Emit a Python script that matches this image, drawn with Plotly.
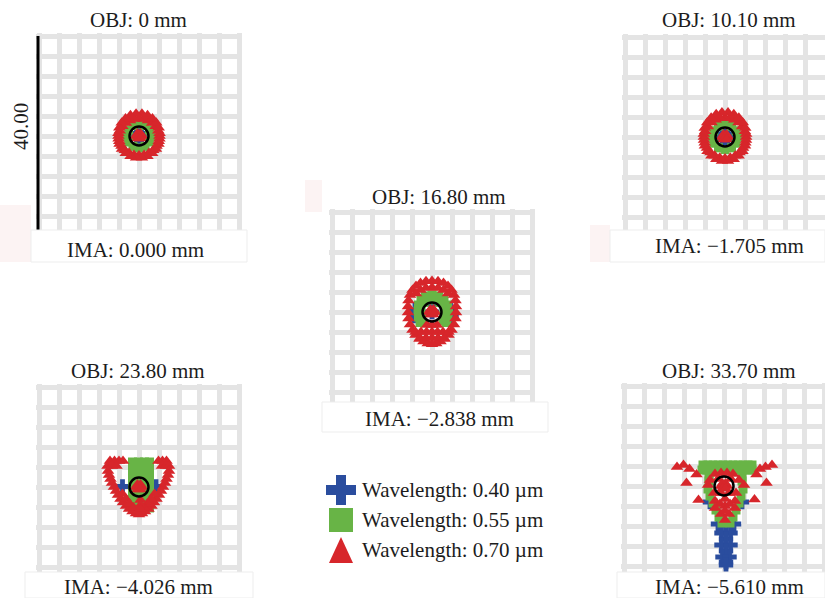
import plotly.graph_objects as go

# ------------------------------------------------------------------
# Spot diagram: ray intercepts in µm, relative to the chief ray
# ------------------------------------------------------------------
FIELD_LABELS = ["OBJ: 0 mm", "OBJ: 10.10 mm", "OBJ: 16.80 mm", "OBJ: 23.80 mm", "OBJ: 33.70 mm"]
IMAGE_LABELS = ["IMA: 0.000 mm", "IMA: \u22121.705 mm", "IMA: \u22122.838 mm",
                "IMA: \u22124.026 mm", "IMA: \u22125.610 mm"]
WAVELENGTHS_UM = [0.40, 0.55, 0.70]
SCALE_BAR_UM = 40.00
AIRY_RADIUS_UM = 1.9
GRID_STEP_UM = 4.0

# field 1 : OBJ 0 mm
F0_BLUE_X = [0.0, 0.5, -0.5, 0.0, 0.0]
F0_BLUE_Y = [0.0, 0.0, 0.0, 0.5, -0.5]
F0_GREEN_X = [2.4, 2.08, 1.2, 0.0, -1.2, -2.08, -2.4, -2.08, -1.2, 0.0, 1.2, 2.08]
F0_GREEN_Y = [0.0, 1.2, 2.08, 2.4, 2.08, 1.2, 0.0, -1.2, -2.08, -2.4, -2.08, -1.2]
F0_RED_X = [4.1, 3.86, 3.33, 2.62, 1.8, 0.91, 0.0, -0.91, -1.8, -2.62, -3.33, -3.86, -4.1,
            3.94, 3.5, 2.83, 1.98, 1.02, 0.0, -1.02, -1.98, -2.83, -3.5, -3.94,
            4.11, 3.93, 3.45, 2.69, 1.71, 0.59, -0.59, -1.71, -2.69, -3.45, -3.93, -4.11,
            4.08, 3.88, 3.39, 2.64, 1.68, 0.58, -0.58, -1.68, -2.64, -3.39, -3.88, -4.08,
            0.0, 0.6, 0.3, -0.3, -0.6, -0.3, 0.3]
F0_RED_Y = [0.0, 1.04, 1.93, 2.62, 3.12, 3.4, 3.5, 3.4, 3.12, 2.62, 1.93, 1.04, 0.0,
            -1.06, -2.02, -2.83, -3.42, -3.79, -3.9, -3.79, -3.42, -2.83, -2.02, -1.06,
            0.54, 1.63, 2.65, 3.51, 4.13, 4.46, 4.46, 4.13, 3.51, 2.65, 1.63, 0.54,
            -0.54, -1.61, -2.6, -3.43, -4.05, -4.36, -4.36, -4.05, -3.43, -2.6, -1.61, -0.54,
            0.0, 0.0, 0.52, 0.52, 0.0, -0.52, -0.52]

# field 2 : OBJ 10.10 mm
F1_BLUE_X = [0.0, 0.6, -0.6, 0.0, 0.0]
F1_BLUE_Y = [0.0, 0.0, 0.0, 0.6, -0.4]
F1_GREEN_X = [2.6, 2.25, 1.3, 0.0, -1.3, -2.25, -2.6, -2.25, -1.3, 0.0, 1.3, 2.25]
F1_GREEN_Y = [0.0, 1.25, 2.17, 2.5, 2.17, 1.25, 0.0, -1.25, -2.17, -2.5, -2.17, -1.25]
F1_RED_X = [4.22, 3.98, 3.43, 2.7, 1.85, 0.94, 0.0, -0.94, -1.85, -2.7, -3.43, -3.98, -4.22,
            4.06, 3.61, 2.91, 2.04, 1.05, 0.0, -1.05, -2.04, -2.91, -3.61, -4.06,
            4.23, 4.05, 3.55, 2.77, 1.76, 0.61, -0.61, -1.76, -2.77, -3.55, -4.05, -4.23,
            4.2, 4.0, 3.49, 2.72, 1.73, 0.6, -0.6, -1.73, -2.72, -3.49, -4.0, -4.2,
            0.0, 0.6, 0.3, -0.3, -0.6, -0.3, 0.3]
F1_RED_Y = [0.0, 1.14, 2.12, 2.88, 3.43, 3.74, 3.85, 3.74, 3.43, 2.88, 2.12, 1.14, 0.0,
            -1.17, -2.22, -3.11, -3.76, -4.17, -4.29, -4.17, -3.76, -3.11, -2.22, -1.17,
            0.59, 1.79, 2.92, 3.86, 4.54, 4.91, 4.91, 4.54, 3.86, 2.92, 1.79, 0.59,
            -0.59, -1.77, -2.86, -3.77, -4.46, -4.8, -4.8, -4.46, -3.77, -2.86, -1.77, -0.59,
            0.0, 0.0, 0.52, 0.52, 0.0, -0.52, -0.52]

# field 3 : OBJ 16.80 mm
F2_BLUE_X = [-3.6, 3.9, -3.4, 3.7, 0.0, 0.0]
F2_BLUE_Y = [-0.8, -0.8, 0.4, 0.4, 0.0, 1.6]
F2_GREEN_X = [0.0, 1.3, -1.3, 2.4, -2.2, 3.1, -2.7, 3.3, -2.8, 3.2, -2.7, 2.9, -2.4,
              0.0, 1.6, -1.6, 2.4, -2.2, 2.3, -2.1, 2.2, -2.0]
F2_GREEN_Y = [3.4, 3.2, 3.2, 2.5, 2.5, 1.4, 1.4, 0.2, 0.2, -1.0, -1.0, -2.1, -2.1,
              2.4, 1.9, 1.9, 0.6, 0.6, -0.8, -0.8, -1.8, -1.8]
F2_RED_X = [0.0, 1.2, 2.3, 3.2, 3.9, 4.4, 4.7, 4.8, 4.8, 4.7, 4.4, 3.9, 3.3, 2.5, 1.7, 0.85, 0.0,
            -1.2, -2.3, -3.2, -3.9, -4.4, -4.7, -4.8, -4.8, -4.7, -4.4, -3.9, -3.3, -2.5, -1.7, -0.85,
            0.0, 1.2, 2.3, 3.2, -1.2, -2.3, -3.2,
            -2.4, -1.2, 0.0, 1.2, 2.4,
            -3.3, -2.2, -1.1, 0.0, 1.1, 2.2, 3.3,
            -1.0, 0.0, 1.0,
            0.0, 0.6, 0.3, -0.3, -0.6, -0.3, 0.3]
F2_RED_Y = [6.2, 6.15, 5.8, 5.2, 4.4, 3.4, 2.3, 1.1, -0.1, -1.3, -2.5, -3.6, -4.6, -5.4, -5.9, -6.3, -6.45,
            6.15, 5.8, 5.2, 4.4, 3.4, 2.3, 1.1, -0.1, -1.3, -2.5, -3.6, -4.6, -5.4, -5.9, -6.3,
            4.9, 4.8, 4.4, 3.7, 4.8, 4.4, 3.7,
            -5.2, -5.2, -5.2, -5.2, -5.2,
            -4.0, -4.0, -4.0, -4.0, -4.0, -4.0, -4.0,
            -2.6, -2.6, -2.6,
            0.0, 0.0, 0.52, 0.52, 0.0, -0.52, -0.52]

# field 4 : OBJ 23.80 mm
F3_BLUE_X = [-3.3, 3.4, 0.0, 0.0, 0.0]
F3_BLUE_Y = [0.1, 0.1, 0.0, 1.0, -1.0]
F3_GREEN_X = [-1.3, -0.1, 1.1, 2.1, -1.3, -0.1, 1.1, 2.1, -1.3, -0.1, 1.1, 2.1,
              -1.3, -0.1, 1.1, 2.1, -1.3, -0.1, 1.1, 2.1, -1.3, -0.1, 1.1, 2.1,
              -1.3, -0.1, 1.1, 2.1, -1.3, -0.1, 1.1, 2.1, -1.3, -0.1, 1.1, 2.1]
F3_GREEN_Y = [5.0, 5.0, 5.0, 5.0, 3.8, 3.8, 3.8, 3.8, 2.6, 2.6, 2.6, 2.6,
              1.4, 1.4, 1.4, 1.4, 0.2, 0.2, 0.2, 0.2, -1.0, -1.0, -1.0, -1.0,
              -2.2, -2.2, -2.2, -2.2, -3.4, -3.4, -3.4, -3.4, -4.2, -4.2, -4.2, -4.2]
F3_RED_X = [-5.8, -4.9, -4.0, -3.2, 3.9, 4.7, 5.5,
            -6.3, -5.4, -4.5, 4.6, 5.4, 6.0,
            -6.2, -6.0, -5.7, -5.4, -5.0, -4.6, -4.2, -3.7, -3.2, -2.6, -2.0, -1.3, -0.6,
            6.0, 5.8, 5.5, 5.2, 4.8, 4.4, 4.0, 3.5, 3.0, 2.5, 1.9, 1.2, 0.6,
            0.0,
            -3.3, -2.6, -1.9, -1.1, 3.1, 2.4, 1.7, 1.0,
            0.0, 0.6, 0.3, -0.3, -0.6, -0.3, 0.3,
            0.3, 0.3, 0.3]
F3_RED_Y = [5.2, 5.2, 5.2, 5.2, 5.2, 5.2, 5.2,
            4.2, 4.2, 4.2, 4.2, 4.2, 4.2,
            3.2, 2.4, 1.6, 0.8, 0.0, -0.8, -1.6, -2.4, -3.1, -3.8, -4.4, -4.9, -5.3,
            3.2, 2.4, 1.6, 0.8, 0.0, -0.8, -1.6, -2.4, -3.1, -3.8, -4.4, -4.9, -5.3,
            -5.5,
            -1.4, -2.4, -3.3, -4.1, -1.4, -2.4, -3.3, -4.1,
            0.0, 0.0, 0.52, 0.52, 0.0, -0.52, -0.52,
            -2.6, -3.6, -4.4]

# field 5 : OBJ 33.70 mm
F4_BLUE_X = [-2.8, 3.6, -1.2, 0.4, 2.0, -0.5, 1.3, 0.4, -0.5, 1.3, 0.4, -0.3, 1.1, 0.4, 0.4]
F4_BLUE_Y = [-3.2, -3.2, -7.6, -7.8, -7.6, -9.4, -9.4, -10.6, -11.8, -11.8, -13.0,
             -14.2, -14.2, -15.2, -15.8]
F4_GREEN_X = [-4.2, -3.2, -2.2, -1.2, -0.2, 0.8, 1.8, 2.8, 3.8, 4.8, 5.6,
              -4.4, -3.4, -2.4, -1.4, 0.0, 1.4, 2.8, 3.8, 4.8, 5.6,
              -3.0, 3.6, -3.0, 3.6, -3.2, 3.8, -2.8, 3.4, -2.2, 3.0, -1.6, 2.4,
              -1.0, 1.8, 0.4, -0.4, 1.2]
F4_GREEN_Y = [4.2, 4.2, 4.2, 4.2, 4.2, 4.2, 4.2, 4.2, 4.2, 4.2, 4.2,
              3.2, 3.2, 3.2, 3.2, 3.2, 3.2, 3.2, 3.2, 3.2, 3.2,
              1.8, 1.8, 1.0, 1.0, -0.6, -0.6, -2.0, -2.0, -3.4, -3.4, -4.8, -4.8,
              -6.2, -6.2, -7.2, -7.4, -7.4]
F4_RED_X = [-9.4, -8.1, -6.9, -5.5, -7.5, -5.1, 8.3, 9.6, 7.2, 6.5, 8.5, 6.1,
            -1.8, -0.6, 0.6, 1.8, -2.8, 3.0, -1.2, 1.4, -3.2, 4.0,
            -2.0, 2.4, -0.6, 1.0, -1.8, 0.2, 2.2, -0.8, 1.2,
            -1.8, 0.2, 2.2, -0.6, 1.0, 0.2, 0.2,
            0.0, 0.6, 0.3, -0.3, -0.6, -0.3, 0.3]
F4_RED_Y = [3.8, 4.2, 3.4, 2.3, 0.6, -2.8, 3.8, 4.2, 3.4, 2.3, 0.6, -2.7,
            2.4, 2.6, 2.6, 2.4, 1.2, 1.2, 1.4, 1.4, 0.2, 0.2,
            -1.4, -1.4, -1.4, -1.4, -3.0, -2.6, -3.0, -3.6, -3.6,
            -4.4, -4.0, -4.4, -5.6, -5.6, -5.0, -6.8,
            0.0, 0.0, 0.52, 0.52, 0.0, -0.52, -0.52]

SPOTS = [
    [(F0_BLUE_X, F0_BLUE_Y), (F0_GREEN_X, F0_GREEN_Y), (F0_RED_X, F0_RED_Y)],
    [(F1_BLUE_X, F1_BLUE_Y), (F1_GREEN_X, F1_GREEN_Y), (F1_RED_X, F1_RED_Y)],
    [(F2_BLUE_X, F2_BLUE_Y), (F2_GREEN_X, F2_GREEN_Y), (F2_RED_X, F2_RED_Y)],
    [(F3_BLUE_X, F3_BLUE_Y), (F3_GREEN_X, F3_GREEN_Y), (F3_RED_X, F3_RED_Y)],
    [(F4_BLUE_X, F4_BLUE_Y), (F4_GREEN_X, F4_GREEN_Y), (F4_RED_X, F4_RED_Y)],
]

# ------------------------------------------------------------------
# Styling and page geometry (pixels)
# ------------------------------------------------------------------
COLORS = ["#2a4d9e", "#68b446", "#d7262b"]
SYMBOLS = ["cross", "square", "triangle-up"]
SIZES = [12, 9, 11]

W, H = 825, 598
FONT = "Liberation Serif"
TEXT_COLOR = "#1c1c1c"
PX_PER_UM = 5.0
HALF_UM = 20.6
PANEL_CENTERS = [(139, 136), (725, 137), (432, 312), (139, 487), (724, 486)]
TITLE_POS = [(138, 20), (729, 20), (439, 197), (138, 371), (729, 371)]
IMA_POS = [(135, 250), (729, 246), (439, 419), (138, 587), (729, 587)]
BANDS = [(31, 230, 247, 262), (610, 230, 825, 262), (322, 402, 548, 432),
         (25, 572, 253, 598), (617, 572, 825, 598)]
TINTS = [(0, 205, 31, 262), (305, 180, 322, 212), (590, 225, 610, 262)]
LEGEND_KEY_X = 341
LEGEND_TEXT_X = 360
LEGEND_ROWS = [490, 520, 550]


def fx(px):
    return px / W


def fy(py):
    return 1 - py / H


grid_axis = dict(showgrid=True, gridcolor="#e4e4e4", gridwidth=5, dtick=GRID_STEP_UM,
                 tick0=0, zeroline=False, showticklabels=False, ticks="",
                 showline=False, fixedrange=True)

fig = go.Figure()
axes = {}
shapes = []
annotations = []

for i, (cx, cy) in enumerate(PANEL_CENTERS):
    left = cx - HALF_UM * PX_PER_UM
    right = min(cx + HALF_UM * PX_PER_UM, W)
    top = cy - HALF_UM * PX_PER_UM
    bottom = min(cy + HALF_UM * PX_PER_UM, H)
    n = "" if i == 0 else str(i + 1)
    axes[f"xaxis{n}"] = dict(domain=[fx(left), fx(right)],
                             range=[(left - cx) / PX_PER_UM, (right - cx) / PX_PER_UM],
                             anchor=f"y{n}", **grid_axis)
    axes[f"yaxis{n}"] = dict(domain=[fy(bottom), fy(top)],
                             range=[(cy - bottom) / PX_PER_UM, (cy - top) / PX_PER_UM],
                             anchor=f"x{n}", **grid_axis)
    # wavelengths plotted in order, the longest on top
    for k in range(3):
        xs, ys = SPOTS[i][k]
        fig.add_trace(go.Scatter(
            x=xs, y=ys, xaxis=f"x{n}", yaxis=f"y{n}", mode="markers",
            marker=dict(symbol=SYMBOLS[k], size=SIZES[k], color=COLORS[k], line=dict(width=0)),
            showlegend=False, hoverinfo="skip"))
    # Airy disk
    shapes.append(dict(type="circle", xref=f"x{n}", yref=f"y{n}",
                       x0=-AIRY_RADIUS_UM, x1=AIRY_RADIUS_UM,
                       y0=-AIRY_RADIUS_UM, y1=AIRY_RADIUS_UM,
                       line=dict(color="black", width=2.5)))
    annotations.append(dict(text=FIELD_LABELS[i], x=fx(TITLE_POS[i][0]), y=fy(TITLE_POS[i][1]),
                            xref="paper", yref="paper", showarrow=False,
                            xanchor="center", yanchor="middle"))
    annotations.append(dict(text=IMAGE_LABELS[i], x=fx(IMA_POS[i][0]), y=fy(IMA_POS[i][1]),
                            xref="paper", yref="paper", showarrow=False,
                            xanchor="center", yanchor="middle"))

# scale bar on the first field
shapes.append(dict(type="line", xref="x", yref="y", x0=-20.2, x1=-20.2,
                   y0=-SCALE_BAR_UM / 2, y1=SCALE_BAR_UM / 2,
                   line=dict(color="black", width=3)))
annotations.append(dict(text=f"{SCALE_BAR_UM:.2f}", x=fx(21), y=fy(127), xref="paper", yref="paper",
                        showarrow=False, textangle=-90, xanchor="center", yanchor="middle"))

# label strips under each field
for (x0, y0, x1, y1) in TINTS:
    shapes.append(dict(type="rect", xref="paper", yref="paper", x0=fx(x0), x1=fx(x1),
                       y0=fy(y1), y1=fy(y0), fillcolor="#fcf3f3", line=dict(width=0)))
for (x0, y0, x1, y1) in BANDS:
    shapes.append(dict(type="rect", xref="paper", yref="paper", x0=fx(x0), x1=fx(x1),
                       y0=fy(y1), y1=fy(y0), fillcolor="white",
                       line=dict(color="#ededed", width=1)))

# wavelength key
axes["xaxis6"] = dict(domain=[fx(320), fx(560)], range=[320, 560], anchor="y6", visible=False,
                      fixedrange=True)
axes["yaxis6"] = dict(domain=[fy(570), fy(470)], range=[570, 470], anchor="x6", visible=False,
                      fixedrange=True)
fig.add_trace(go.Scatter(x=[LEGEND_KEY_X], y=[LEGEND_ROWS[0]], xaxis="x6", yaxis="y6",
                         mode="markers", marker=dict(symbol="cross", size=25, color=COLORS[0]),
                         showlegend=False, hoverinfo="skip"))
fig.add_trace(go.Scatter(x=[LEGEND_KEY_X], y=[LEGEND_ROWS[1]], xaxis="x6", yaxis="y6",
                         mode="markers", marker=dict(symbol="square", size=24, color=COLORS[1]),
                         showlegend=False, hoverinfo="skip"))
tri_half_w, tri_half_h = 12, 13
fig.add_trace(go.Scatter(
    x=[LEGEND_KEY_X - tri_half_w, LEGEND_KEY_X + tri_half_w, LEGEND_KEY_X, LEGEND_KEY_X - tri_half_w],
    y=[LEGEND_ROWS[2] + tri_half_h, LEGEND_ROWS[2] + tri_half_h, LEGEND_ROWS[2] - tri_half_h,
       LEGEND_ROWS[2] + tri_half_h],
    xaxis="x6", yaxis="y6", mode="lines", fill="toself", fillcolor=COLORS[2],
    line=dict(width=0, color=COLORS[2]), showlegend=False, hoverinfo="skip"))
for w, row in zip(WAVELENGTHS_UM, LEGEND_ROWS):
    annotations.append(dict(text=f"Wavelength: {w:.2f} \u00b5m", x=fx(LEGEND_TEXT_X), y=fy(row),
                            xref="paper", yref="paper", showarrow=False,
                            xanchor="left", yanchor="middle"))

fig.update_layout(
    width=W, height=H, margin=dict(l=0, r=0, t=0, b=0),
    paper_bgcolor="white", plot_bgcolor="white",
    font=dict(family=FONT, size=21, color=TEXT_COLOR),
    showlegend=False, shapes=shapes, annotations=annotations, **axes)

fig.write_html("out.html")
